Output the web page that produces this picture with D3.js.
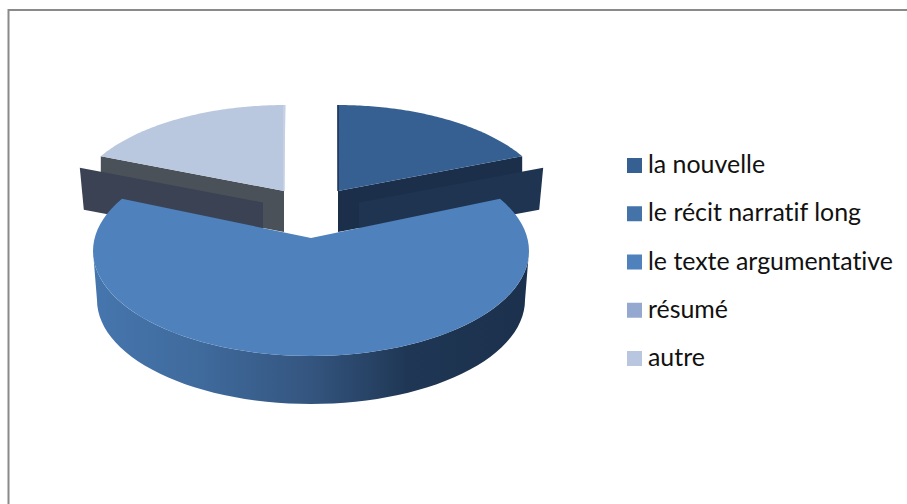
<!DOCTYPE html>
<html>
<head>
<meta charset="utf-8">
<script src="https://cdn.jsdelivr.net/npm/d3@7"></script>
<style>
html,body{margin:0;padding:0;background:#fff}
svg{display:block}
</style>
</head>
<body>
<svg id="chart" width="907" height="504"></svg>
<script>
// valeurs
var categories = ["la nouvelle","le récit narratif long","le texte argumentative","résumé","autre"];
var values = [16.7,0,66.6,0,16.7];
var legendColors = ["#376092","#4373a8","#4f81bd","#95a9d0","#b9c6df"];

var svg = d3.select("#chart");

// cadre : seulement en haut et a gauche
svg.append("path").attr("fill","none").attr("stroke","#8a8a8a").attr("stroke-width",2)
	.attr("d","M8.5,504V10H907");

var pie = d3.pie().sort(null).value(function(d){return d;});
var arcs = pie(values);

// ellipse + apex de chaque part (perspective : l'apex est au-dessus du centre de l'ellipse)
var geom = {
	0:{cx:337.5,cy:207,rx:213,ry:102,ax:338,ay:191,depth:41,shift:21},
	2:{cx:311,cy:251,rx:218,ry:105,ax:311,ay:238,depth:48},
	4:{cx:285.5,cy:207,rx:213,ry:102,ax:284,ay:191,depth:41,shift:-21}
};

function pt(g,a){
	return [g.cx+g.rx*Math.sin(a), g.cy-g.ry*Math.cos(a)];
}
function topPath(g,d){
	var n = 80;
	var pts = d3.range(n+1).map(function(i){
		return pt(g,d.startAngle+(d.endAngle-d.startAngle)*i/n);
	});
	pts.push([g.ax,g.ay]);
	return d3.line()(pts)+"Z";
}

// degrade du flanc de la grande part
var defs = svg.append("defs");
var grad = defs.append("linearGradient").attr("id","flanc")
	.attr("gradientUnits","userSpaceOnUse").attr("x1",93).attr("x2",529).attr("y1",0).attr("y2",0);
[[0,"#4676ae"],[0.25,"#3f6a9c"],[0.5,"#34557f"],[0.72,"#1f3755"],[1,"#1b304c"]].forEach(function(s){
	grad.append("stop").attr("offset",s[0]).attr("stop-color",s[1]);
});

// parts arriere : paroi, panneau, dessus
function backSlice(i,wallColor,panelColor,topColor,edgeColor){
	var g = geom[i], d = arcs[i];
	var corner = pt(g, i==0 ? d.endAngle : d.startAngle);
	var apex = [g.ax,g.ay];
	var top = [g.ax, g.cy-g.ry];
	svg.append("path").attr("fill",wallColor)
		.attr("d",d3.line()([corner,apex,[apex[0],apex[1]+g.depth],[corner[0],corner[1]+g.depth]])+"Z");
	var sx = g.shift, sy = 11.5, inset = sx>0 ? -4 : 4;
	svg.append("path").attr("fill",panelColor)
		.attr("d",d3.line()([
			[corner[0]+sx,corner[1]+sy],
			[apex[0]+sx,apex[1]+sy],
			[apex[0]+sx,apex[1]+sy+g.depth],
			[corner[0]+sx+inset,corner[1]+sy+g.depth+1]
		])+"Z");
	svg.append("path").attr("fill",topColor).attr("d",topPath(g,d));
	svg.append("path").attr("fill","none").attr("stroke",edgeColor).attr("stroke-width",1.5)
		.attr("d",d3.line()([top,apex]));
}
backSlice(0,"#1b2f4b","#1e3450","#366092","#1b3050");
backSlice(4,"#4b5159","#3a4254","#b9c7df","#c9d3e4");

// grande part : flanc puis dessus
var g2 = geom[2], d2 = arcs[2];
var lowRx = 214, lowCy = 300, lowRy = 104;
var flancTop = d3.range(0,61).map(function(i){
	var a = Math.PI/2+Math.PI*i/60;
	return pt(g2,a);
});
var flancBottom = d3.range(0,61).map(function(i){
	var a = Math.PI*1.5-Math.PI*i/60;
	return pt({cx:g2.cx,cy:lowCy,rx:lowRx,ry:lowRy},a);
});
svg.append("path").attr("fill","url(#flanc)")
	.attr("d",d3.line()(flancTop.concat(flancBottom))+"Z");
svg.append("path").attr("fill",legendColors[2]).attr("d",topPath(g2,d2));

// legende
var y = d3.scalePoint().domain(categories).range([165.5,358.5]);
var legend = svg.selectAll("g.leg").data(categories).enter().append("g").attr("class","leg");
legend.append("rect")
	.attr("x",627).attr("y",function(d){return y(d)-7.5;})
	.attr("width",15).attr("height",15)
	.attr("fill",function(d,i){return legendColors[i];});
legend.append("text")
	.attr("x",648).attr("y",function(d){return y(d)+7.5;})
	.attr("font-family","Lato, 'Open Sans', sans-serif").attr("font-size",24.9)
	.style("font-variant-ligatures","none")
	.attr("fill","#111")
	.text(function(d){return d;});
</script>
</body>
</html>
